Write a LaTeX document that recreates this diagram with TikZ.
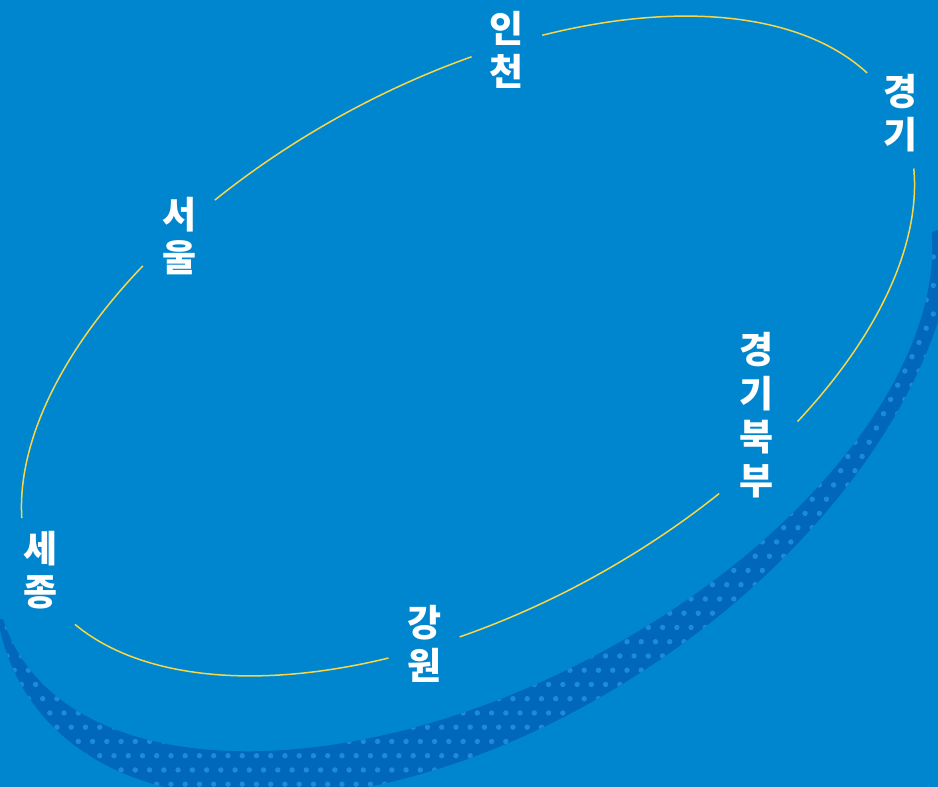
\documentclass[tikz,border=0pt]{standalone}
\usepackage{fontspec}
\newfontfamily\krfont{Noto Sans CJK KR}
\definecolor{bgblue}{HTML}{0086CE}
\definecolor{bandblue}{HTML}{0067BB}
\definecolor{dotblue}{HTML}{1D8CD8}
\definecolor{lineyellow}{HTML}{F7D64A}
\begin{document}
\begin{tikzpicture}[x=1pt,y=-1pt,
  lbl/.style={text=white, font=\krfont\bfseries\fontsize{37}{43.5}\selectfont, align=center, inner sep=0pt},
  yline/.style={draw=lineyellow, line width=1.5pt, rotate around={28.9:(468,346)}}]
\fill[bgblue] (0,0) rectangle (938,787);
\useasboundingbox (0,0) rectangle (938,787);
% dark dotted band: inside the lower ellipse, outside the upper one, below the chord of its tips
\begin{scope}
  \clip (3,619) -- (945,227) -- (1000,227) -- (1000,900) -- (-50,900) -- (-50,619) -- cycle;
  \clip[rotate around={33.8:(475,398.5)}] (475,398.5) ellipse [x radius=537, y radius=320];
  \begin{scope}[even odd rule]
    \clip[rotate around={27.9:(463.6,407.2)}] (-1500,-1500) rectangle (2500,2500)
         (463.6,407.2) ellipse [x radius=508.8, y radius=281.1];
    \fill[bandblue] (0,0) rectangle (938,787);
    \fill[dotblue, nonzero rule] foreach \j in {-38,...,3} { foreach \k in {-11,...,56} {
      ({156.7+7.125*mod(abs(\j),2)+14.25*\k},{755.7+14.25*\j}) circle[radius=2.7] } };
  \end{scope}
\end{scope}
% yellow loop, broken at the labels
\draw[yline] plot[domain=-73:-108, samples=40, variable=\t] ({468+489*cos(\t)},{346+263*sin(\t)});
\draw[yline] plot[domain=-120.2:-165.7, samples=50, variable=\t] ({468+489*cos(\t)},{346+263*sin(\t)});
\draw[yline] plot[domain=-191.8:-243.2, samples=50, variable=\t] ({468+489*cos(\t)},{346+263*sin(\t)});
\draw[yline] plot[domain=107.6:72.3, samples=40, variable=\t] ({468+489*cos(\t)},{346+263*sin(\t)});
\draw[yline] plot[domain=59:13.2, samples=50, variable=\t] ({468+489*cos(\t)},{346+263*sin(\t)});
\draw[yline] plot[domain=-10.1:-63.9, samples=50, variable=\t] ({468+489*cos(\t)},{346+263*sin(\t)});
% labels
\node[lbl] (incheon) at (507,50) {인\\천};
\node[lbl] (gyeonggi) at (901,113) {경\\기};
\node[lbl] (seoul) at (180,236) {서\\울};
\node[lbl] (sejong) at (41,570) {세\\종};
\node[lbl] (gangwon) at (425,644) {강\\원};
\node[lbl] (bukbu) at (757,415) {경\\기\\북\\부};
\end{tikzpicture}
\end{document}
